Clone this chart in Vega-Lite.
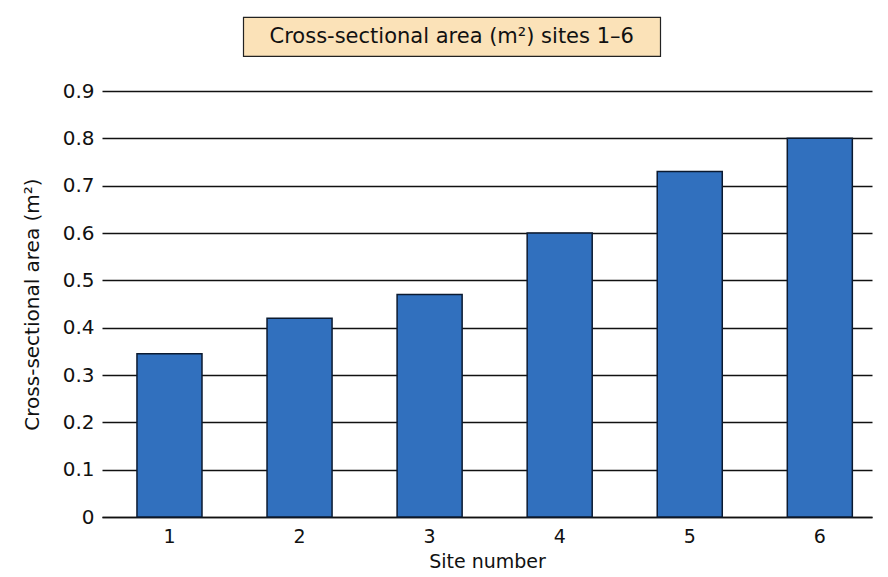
{
  "$schema": "https://vega.github.io/schema/vega-lite/v6.json",
  "background": "white",
  "padding": {"top": 16, "left": 22, "right": 5, "bottom": 5},
  "spacing": 24,
  "center": true,
  "config": {
    "font": "DejaVu Sans",
    "view": {"stroke": null}
  },
  "vconcat": [
    {
      "width": 417,
      "height": 39,
      "view": {"fill": "#fbe2b8", "stroke": "#222222", "strokeWidth": 1.2},
      "title": {"text": ".", "orient": "right", "offset": 66, "color": "white", "fontSize": 4},
      "data": {"values": [{"label": "Cross-sectional area (m²) sites 1–6"}]},
      "mark": {"type": "text", "fontSize": 21, "color": "#111111", "align": "center", "baseline": "middle"},
      "encoding": {
        "text": {"field": "label", "type": "nominal"}
      }
    },
    {
      "width": 770,
      "height": 426,
      "data": {
        "values": [
          {"site": "1", "area": 0.345},
          {"site": "2", "area": 0.42},
          {"site": "3", "area": 0.47},
          {"site": "4", "area": 0.6},
          {"site": "5", "area": 0.73},
          {"site": "6", "area": 0.8}
        ]
      },
      "mark": {"type": "bar", "fill": "#3170be", "stroke": "#0b1a30", "strokeWidth": 1.5},
      "encoding": {
        "x": {
          "field": "site",
          "type": "ordinal",
          "title": "Site number",
          "scale": {"paddingInner": 0.5, "paddingOuter": 0.21, "align": 0.64},
          "axis": {
            "labelAngle": 0,
            "labelFontSize": 19,
            "labelColor": "#111111",
            "labelPadding": 10,
            "ticks": false,
            "domainColor": "#111111",
            "domainWidth": 1.5,
            "titleFontSize": 19,
            "titleFontWeight": "normal",
            "titleColor": "#111111",
            "titlePadding": 6
          }
        },
        "y": {
          "field": "area",
          "type": "quantitative",
          "title": "Cross-sectional area (m²)",
          "scale": {"domain": [0, 0.9]},
          "axis": {
            "values": [0, 0.1, 0.2, 0.3, 0.4, 0.5, 0.6, 0.7, 0.8, 0.9],
            "format": "~g",
            "domain": false,
            "ticks": false,
            "grid": true,
            "gridColor": "#111111",
            "gridWidth": 1.5,
            "gridOpacity": 1,
            "labelFontSize": 20,
            "labelColor": "#111111",
            "labelPadding": 8,
            "titleFontSize": 20,
            "titleFontWeight": "normal",
            "titleColor": "#111111",
            "titlePadding": 20
          }
        }
      }
    }
  ]
}
